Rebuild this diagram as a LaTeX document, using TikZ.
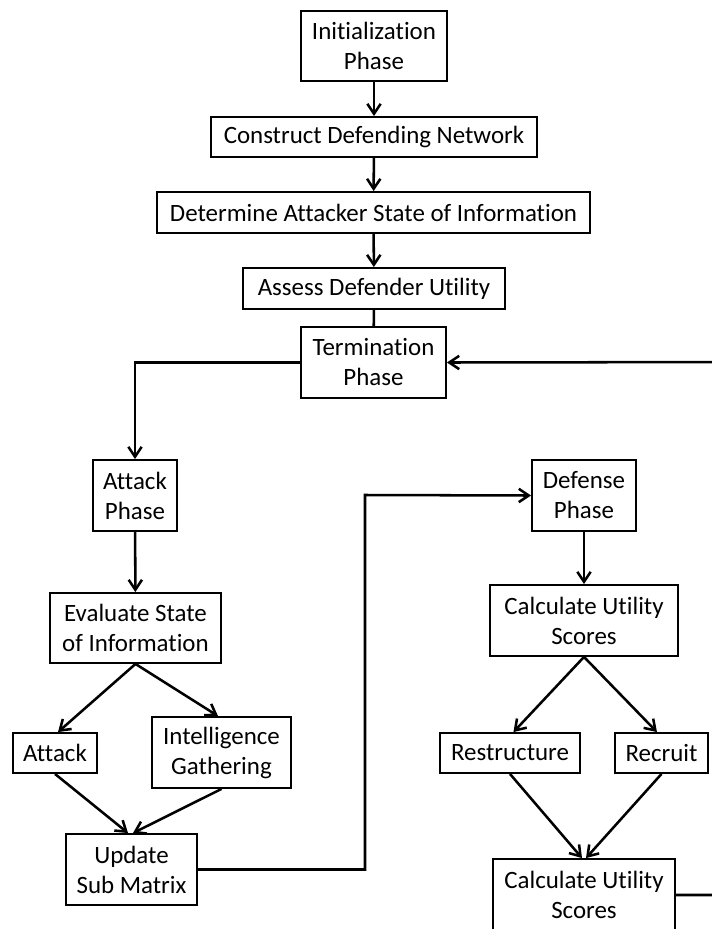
\documentclass[tikz,border=0pt]{standalone}
\usepackage{fontspec}
\setmainfont{Carlito}[Ligatures={NoCommon}]
\usetikzlibrary{arrows.meta}
\begin{document}
\begin{tikzpicture}[x=0.75pt,y=-0.75pt,
  box/.style={draw,line width=1.4pt,inner sep=0pt,align=center,
    font=\fontsize{18.7}{22.5}\selectfont},
  link/.style={line width=1.9pt},
  arr/.style={link,-{Straight Barb[length=7.5pt,width=10pt]}}]
\useasboundingbox (0,0) rectangle (712,929);
\clip (0,0) rectangle (712,929);

% main column
\node[box,minimum width=109.5pt,minimum height=52.5pt] (init) at (374,46) {Initialization\\Phase};
\node[box,minimum width=244.5pt,minimum height=30pt] (cons) at (374,137) {Construct Defending Network};
\node[box,minimum width=324.75pt,minimum height=30.75pt] (det) at (373.5,212.5) {Determine Attacker State of Information};
\node[box,minimum width=196.5pt,minimum height=30.75pt] (assess) at (374,288.5) {Assess Defender Utility};
\node[box,minimum width=108.75pt,minimum height=53.25pt] (term) at (373.5,362.5) {Termination\\Phase};

% attack branch
\node[box,minimum width=63pt,minimum height=53.25pt] (attph) at (135,495.5) {Attack\\Phase};
\node[box,minimum width=128.25pt,minimum height=52.5pt] (eval) at (135.5,628) {Evaluate State\\of Information};
\node[box,minimum width=63pt,minimum height=30pt] (atk) at (55,753) {Attack};
\node[box,minimum width=104.25pt,minimum height=53.25pt] (intel) at (221.5,752.5) {Intelligence\\Gathering};
\node[box,minimum width=98.25pt,minimum height=53.25pt] (upd) at (131.5,869.5) {Update\\Sub Matrix};

% defense branch
\node[box,minimum width=78pt,minimum height=53.25pt] (defph) at (584,495.5) {Defense\\Phase};
\node[box,minimum width=141pt,minimum height=53.25pt] (calc) at (584,620.5) {Calculate Utility\\Scores};
\node[box,minimum width=105pt,minimum height=30pt] (restr) at (510,753) {Restructure};
\node[box,minimum width=69.75pt,minimum height=30pt] (recr) at (661.5,753) {Recruit};
\node[box,minimum width=136.5pt,minimum height=54pt] (calcb) at (584,895) {Calculate Utility\\Scores};

% routing points
\coordinate (jog) at (365,495);
\coordinate (ret) at (740,362);

% connectors
\draw[arr] (init) -- (cons);
\draw[arr] (cons) -- (det);
\draw[arr] (det) -- (assess);
\draw[link] (assess) -- (term);
\draw[arr] (term.west) -| (attph.north);
\draw[arr] (attph) -- (eval);
\draw[arr] (eval.south) -- ([xshift=2.25pt]atk.north);
\draw[arr] (eval.south) -- ([xshift=-2.6pt]intel.north);
\draw[arr] (atk.south) -- ([xshift=-2.6pt]upd.north);
\draw[arr] (intel.south) -- ([xshift=1.1pt]upd.north);
\draw[arr] (upd.east) -| (jog) -- (defph.west);
\draw[arr] (defph) -- (calc);
\draw[arr] (calc.south) -- ([xshift=2.6pt]restr.north);
\draw[arr] (calc.south) -- ([xshift=-3.4pt]recr.north);
\draw[arr] (restr.south) -- ([xshift=-1.5pt]calcb.north);
\draw[arr] (recr.south) -- ([xshift=1.5pt]calcb.north);
\draw[arr] (calcb.east) -| (ret) -- (term.east);
\end{tikzpicture}
\end{document}
